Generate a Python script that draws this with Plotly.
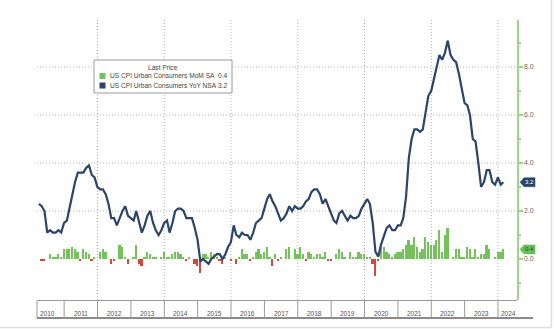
import pandas as pd
import plotly.graph_objects as go

# ---------------- data (monthly, Mar 2010 .. Feb 2024) ----------------
START = "2010-03"
END = "2024-02"

yoy = [
    2.3, 2.2, 2.0, 1.1, 1.2, 1.1, 1.1, 1.2, 1.1, 1.5,                 # 2010 Mar-Dec
    1.6, 2.1, 2.7, 3.2, 3.6, 3.6, 3.6, 3.8, 3.9, 3.5, 3.4, 3.0,       # 2011
    2.9, 2.9, 2.7, 2.3, 1.7, 1.7, 1.4, 1.7, 2.0, 2.2, 1.8, 1.7,       # 2012
    1.6, 2.0, 1.5, 1.1, 1.4, 1.8, 2.0, 1.5, 1.2, 1.0, 1.2, 1.5,       # 2013
    1.6, 1.1, 1.5, 2.0, 2.1, 2.1, 2.0, 1.7, 1.7, 1.7, 1.3, 0.8,       # 2014
    -0.1, 0.0, -0.1, -0.2, 0.0, 0.1, 0.2, 0.2, 0.0, 0.2, 0.5, 0.7,    # 2015
    1.4, 1.0, 0.9, 1.1, 1.0, 1.0, 0.8, 1.1, 1.5, 1.6, 1.7, 2.1,       # 2016
    2.5, 2.7, 2.4, 2.2, 1.9, 1.6, 1.7, 1.9, 2.2, 2.0, 2.2, 2.1,       # 2017
    2.1, 2.2, 2.4, 2.5, 2.8, 2.9, 2.9, 2.7, 2.3, 2.5, 2.2, 1.9,       # 2018
    1.6, 1.5, 1.9, 2.0, 1.8, 1.6, 1.8, 1.7, 1.7, 1.8, 2.1, 2.3,       # 2019
    2.5, 2.3, 1.5, 0.3, 0.1, 0.6, 1.0, 1.3, 1.4, 1.2, 1.2, 1.4,       # 2020
    1.4, 1.7, 2.6, 4.2, 5.0, 5.4, 5.4, 5.3, 5.4, 6.2, 6.8, 7.0,       # 2021
    7.5, 7.9, 8.5, 8.3, 8.6, 9.1, 8.5, 8.3, 8.2, 7.7, 7.1, 6.5,       # 2022
    6.4, 6.0, 5.0, 4.9, 4.0, 3.0, 3.2, 3.7, 3.7, 3.2, 3.1, 3.4,       # 2023
    3.1, 3.2,                                                         # 2024
]

mom = [
    0.0, -0.1, -0.1, 0.0, 0.2, 0.1, 0.1, 0.2, 0.1, 0.4,               # 2010 Mar-Dec
    0.4, 0.4, 0.5, 0.4, 0.3, -0.1, 0.4, 0.3, 0.2, -0.1, 0.1, 0.0,     # 2011
    0.3, 0.4, 0.3, 0.0, -0.2, -0.1, 0.0, 0.6, 0.5, 0.1, -0.2, 0.0,    # 2012
    0.1, 0.6, -0.2, -0.3, 0.1, 0.3, 0.2, 0.1, 0.1, 0.0, 0.1, 0.3,     # 2013
    0.1, 0.1, 0.2, 0.3, 0.3, 0.2, 0.1, -0.1, 0.1, 0.0, -0.2, -0.3,    # 2014
    -0.6, 0.2, 0.2, 0.1, 0.3, 0.2, 0.1, -0.1, -0.2, 0.1, 0.0, -0.1,   # 2015
    0.0, -0.2, 0.1, 0.4, 0.2, 0.2, -0.1, 0.1, 0.3, 0.4, 0.2, 0.3,     # 2016
    0.5, 0.1, -0.3, 0.2, -0.1, 0.1, 0.0, 0.4, 0.5, 0.0, 0.4, 0.2,     # 2017
    0.5, 0.2, -0.1, 0.3, 0.2, 0.1, 0.2, 0.2, 0.1, 0.3, -0.1, -0.1,    # 2018
    0.0, 0.2, 0.4, 0.3, 0.1, 0.0, 0.3, 0.1, 0.1, 0.3, 0.2, 0.2,       # 2019
    0.1, 0.1, -0.2, -0.7, -0.1, 0.5, 0.5, 0.3, 0.2, 0.1, 0.2, 0.3,    # 2020
    0.3, 0.4, 0.6, 0.8, 0.6, 0.9, 0.5, 0.3, 0.4, 0.9, 0.7, 0.6,       # 2021
    0.6, 0.8, 1.2, 0.3, 1.0, 1.3, 0.0, 0.1, 0.4, 0.4, 0.1, 0.1,       # 2022
    0.5, 0.4, 0.1, 0.4, 0.1, 0.2, 0.2, 0.6, 0.4, 0.0, 0.1, 0.3,       # 2023
    0.3, 0.4,                                                         # 2024
]

years = list(range(2010, 2025))
grid_years = [2012, 2014, 2016, 2018, 2020, 2022, 2024]
y_ticks = [0, 2, 4, 6, 8]
grid_y = [2, 4, 6, 8]

mom_name = "US CPI Urban Consumers MoM SA"
yoy_name = "US CPI Urban Consumers YoY NSA"

# ---------------- styling ----------------
NAVY = "#2b4468"
GREEN = "#74c35a"
RED = "#d8453b"
AXGREEN = "#9ad58c"
GRAY = "#666666"
GRID = "#b4b4b4"
FONT = "Liberation Sans, Arial, sans-serif"

W, H = 554, 329
ML, MR, MT, MB = 37, 37, 20, 29
PW, PH = W - ML - MR, H - MT - MB

def px_x(px):
    return (px - ML) / PW

def px_y(py):
    return (H - MB - py) / PH

dates = pd.date_range(START, END, freq="MS") + pd.offsets.MonthEnd(0)
bar_colors = [GREEN if v >= 0 else RED for v in mom]

X_LO = pd.Timestamp("2010-03-10")
X_HI = pd.Timestamp("2024-07-27")
BOX_HI = pd.Timestamp("2024-08-20")

fig = go.Figure()
fig.add_trace(go.Bar(
    x=dates, y=mom, marker=dict(color=bar_colors, line=dict(width=0)),
    width=19 * 86400000, name=mom_name, showlegend=False,
))
fig.add_trace(go.Scatter(
    x=dates, y=yoy, mode="lines", line=dict(color=NAVY, width=2.2),
    name=yoy_name, showlegend=False,
))

shapes = []
annotations = []

# horizontal dotted grid
for g in grid_y:
    shapes.append(dict(type="line", xref="paper", yref="y", x0=0, x1=1, y0=g, y1=g,
                       line=dict(color=GRID, width=1, dash="1px,2px"), layer="below"))
# vertical dotted grid
for gy in grid_years:
    d = pd.Timestamp(f"{gy}-01-01")
    shapes.append(dict(type="line", xref="x", yref="paper", x0=d, x1=d, y0=0, y1=1,
                       line=dict(color=GRID, width=1, dash="1px,2px"), layer="below"))

# bottom axis boxes
shapes.append(dict(type="line", xref="paper", yref="paper", x0=0, x1=1,
                   y0=px_y(300.5), y1=px_y(300.5), line=dict(color="#9a9a9a", width=1)))
shapes.append(dict(type="line", xref="paper", yref="paper", x0=0, x1=px_x(533),
                   y0=px_y(318), y1=px_y(318), line=dict(color="#8a8a8a", width=2)))
shapes.append(dict(type="line", xref="paper", yref="paper", x0=0, x1=0,
                   y0=px_y(300.5), y1=px_y(318), line=dict(color="#9a9a9a", width=1)))
for yr in years[1:]:
    d = pd.Timestamp(f"{yr}-01-01")
    shapes.append(dict(type="line", xref="x", yref="paper", x0=d, x1=d,
                       y0=px_y(300.5), y1=px_y(318), line=dict(color="#9a9a9a", width=1)))
for yr in years:
    a = max(pd.Timestamp(f"{yr}-01-01"), pd.Timestamp("2009-12-31"))
    b = min(pd.Timestamp(f"{yr + 1}-01-01"), BOX_HI)
    mid = a + (b - a) / 2
    annotations.append(dict(x=mid, y=px_y(313), xref="x", yref="paper", text=str(yr),
                            showarrow=False, font=dict(size=6.5, color="#555", family=FONT),
                            xanchor="center", yanchor="middle"))

# outer frame (right / bottom)
shapes.append(dict(type="line", xref="paper", yref="paper", x0=px_x(551.5), x1=px_x(551.5),
                   y0=px_y(0), y1=px_y(327.5), line=dict(color="#dddddd", width=1.5)))
shapes.append(dict(type="line", xref="paper", yref="paper", x0=px_x(0), x1=px_x(551.5),
                   y0=px_y(327.5), y1=px_y(327.5), line=dict(color="#dddddd", width=1.5)))

# last-value tags
tag_path = "M 3,0 L 7,4.5 L 18,4.5 L 18,-4.5 L 7,-4.5 Z"
for val, fill, tcol in [(yoy[-1], NAVY, "white"), (mom[-1], "#66c05a", "#1d4d17")]:
    shapes.append(dict(type="path", xref="paper", yref="y", xsizemode="pixel", ysizemode="pixel",
                       xanchor=1, yanchor=val, path=tag_path,
                       fillcolor=fill, line=dict(color=fill, width=0.5), layer="above"))
    annotations.append(dict(x=px_x(529), y=val, xref="paper", yref="y", text=f"{val:.1f}",
                            showarrow=False, font=dict(size=6, color=tcol, family=FONT),
                            xanchor="center", yanchor="middle"))

# legend box
shapes.append(dict(type="rect", xref="paper", yref="paper", x0=px_x(94), x1=px_x(232),
                   y0=px_y(93), y1=px_y(60), fillcolor="white",
                   line=dict(color="#9a9a9a", width=1), layer="above"))
annotations.append(dict(x=px_x(163), y=px_y(67.5), xref="paper", yref="paper", text="Last Price",
                        showarrow=False, font=dict(size=6.6, color="#444", family=FONT),
                        xanchor="center", yanchor="middle"))
for i, (nm, col, val) in enumerate([(mom_name, GREEN, mom[-1]), (yoy_name, NAVY, yoy[-1])]):
    cy = 76 + i * 9.5
    shapes.append(dict(type="rect", xref="paper", yref="paper", x0=px_x(99.5), x1=px_x(105.5),
                       y0=px_y(cy + 3), y1=px_y(cy - 3), fillcolor=col,
                       line=dict(width=0), layer="above"))
    annotations.append(dict(x=px_x(107.5), y=px_y(cy), xref="paper", yref="paper", text=nm,
                            showarrow=False, font=dict(size=6.6, color="#444", family=FONT),
                            xanchor="left", yanchor="middle"))
    annotations.append(dict(x=px_x(228.5), y=px_y(cy), xref="paper", yref="paper", text=f"{val:.1f}",
                            showarrow=False, font=dict(size=6.6, color="#444", family=FONT),
                            xanchor="right", yanchor="middle"))

fig.update_layout(
    width=W, height=H,
    margin=dict(l=ML, r=MR, t=MT, b=MB),
    paper_bgcolor="white", plot_bgcolor="white",
    showlegend=False,
    bargap=0,
    shapes=shapes, annotations=annotations,
    xaxis=dict(type="date", range=[X_LO, X_HI], showgrid=False, showticklabels=False,
               ticks="", zeroline=False, showline=False, fixedrange=True),
    yaxis=dict(side="right", range=[-1.708, 9.958], tickvals=y_ticks,
               ticktext=[f"{v:.1f}" for v in y_ticks],
               showgrid=False, zeroline=False,
               showline=True, linecolor=AXGREEN, linewidth=1.5,
               ticks="outside", ticklen=4, tickcolor=AXGREEN, tickwidth=1.5,
               minor=dict(dtick=1, tick0=1, ticks="outside", ticklen=2, tickcolor=AXGREEN),
               tickfont=dict(size=6.8, color=GRAY, family=FONT)),
)

fig.write_html("out.html")
